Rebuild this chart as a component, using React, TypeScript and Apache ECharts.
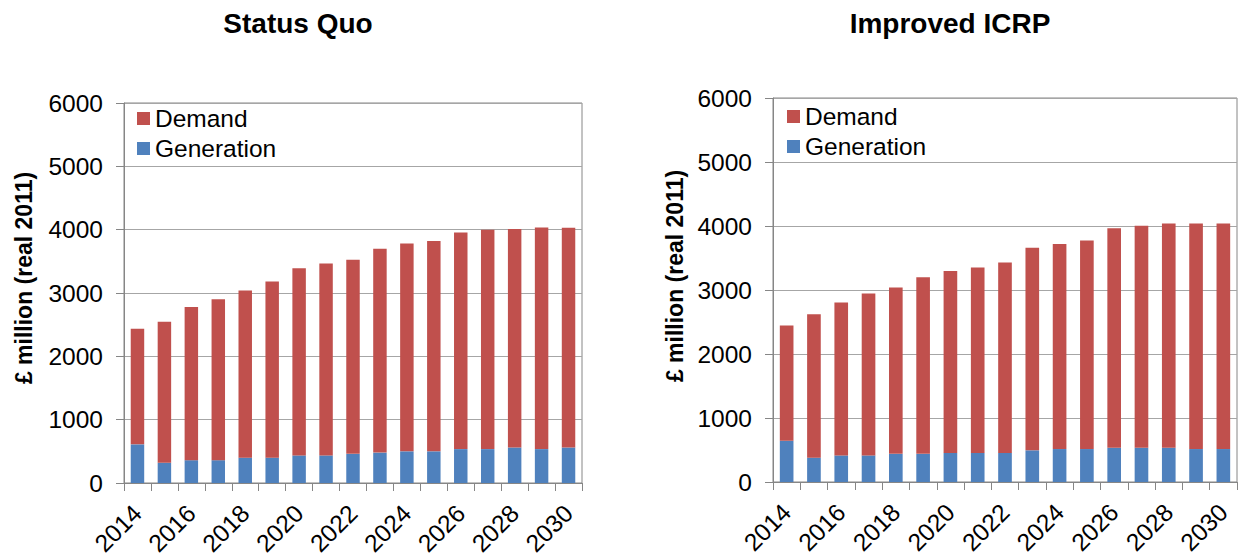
import React, { useEffect, useRef } from "react";
import * as echarts from "echarts";

// Years on the category axis
const years = [
  "2014", "2015", "2016", "2017", "2018", "2019", "2020", "2021", "2022",
  "2023", "2024", "2025", "2026", "2027", "2028", "2029", "2030",
];

// Status Quo scenario, £ million (real 2011)
const statusQuoGeneration = [610, 320, 360, 360, 400, 400, 435, 435, 460, 480, 500, 500, 535, 535, 560, 535, 560];
const statusQuoDemand = [1825, 2225, 2420, 2540, 2640, 2780, 2955, 3030, 3065, 3220, 3280, 3320, 3420, 3465, 3450, 3500, 3470];

// Improved ICRP scenario, £ million (real 2011)
const icrpGeneration = [645, 380, 415, 415, 440, 440, 455, 455, 455, 495, 515, 515, 535, 535, 535, 515, 515];
const icrpDemand = [1800, 2240, 2390, 2530, 2600, 2760, 2840, 2895, 2975, 3165, 3205, 3260, 3430, 3470, 3505, 3525, 3525];

const chartTitles = ["Status Quo", "Improved ICRP"];
const yAxisTitle = "£ million (real 2011)";
const legendNames = ["Demand", "Generation"];

const RED = "#C0504D";
const BLUE = "#4F81BD";
const AXIS = "#868686";
const GRID = "#A6A6A6";
const FONT = "'Liberation Sans', Arial, sans-serif";
const LABEL_SIZE = 24.5;

function xAxis(gridIndex: number) {
  return {
    type: "category",
    gridIndex,
    data: years,
    boundaryGap: true,
    axisLine: { show: true, lineStyle: { color: AXIS, width: 1 } },
    axisTick: { show: true, interval: 0, length: 8, lineStyle: { color: AXIS } },
    axisLabel: {
      interval: 1,
      rotate: 45,
      margin: 26,
      color: "#000",
      fontSize: LABEL_SIZE,
      fontFamily: FONT,
    },
  };
}

function yAxis(gridIndex: number) {
  return {
    type: "value",
    gridIndex,
    min: 0,
    max: 6000,
    interval: 1000,
    axisLine: { show: true, lineStyle: { color: AXIS, width: 1 } },
    axisTick: { show: true, length: 8, lineStyle: { color: AXIS } },
    splitLine: { show: true, lineStyle: { color: GRID, width: 1 } },
    axisLabel: {
      margin: 21,
      color: "#000",
      fontSize: LABEL_SIZE,
      fontFamily: FONT,
      formatter: (v: number) => String(v),
    },
  };
}

function legend(left: number, top: number) {
  return {
    data: legendNames,
    orient: "vertical",
    left,
    top,
    padding: 0,
    itemGap: 5,
    itemWidth: 13,
    itemHeight: 13,
    icon: "rect",
    textStyle: { fontSize: LABEL_SIZE, color: "#000", fontFamily: FONT },
  };
}

function bars(name: string, data: number[], idx: number, color: string) {
  return {
    type: "bar",
    name,
    data,
    xAxisIndex: idx,
    yAxisIndex: idx,
    stack: "s" + idx,
    barCategoryGap: "50%",
    itemStyle: { color },
    emphasis: { disabled: true },
  };
}

export default function App() {
  const ref = useRef<HTMLDivElement>(null);

  useEffect(() => {
    if (!ref.current) return;
    const chart = echarts.init(ref.current, undefined, { renderer: "svg" });
    chart.setOption({
      animation: false,
      backgroundColor: "#fff",
      grid: [
        { left: 124, right: 657, top: 103, bottom: 76, show: true, borderColor: AXIS, borderWidth: 1 },
        { left: 773, right: 2, top: 98, bottom: 77, show: true, borderColor: AXIS, borderWidth: 1 },
      ],
      xAxis: [xAxis(0), xAxis(1)],
      yAxis: [yAxis(0), yAxis(1)],
      legend: [legend(137, 106), legend(787, 104)],
      series: [
        bars("Generation", statusQuoGeneration, 0, BLUE),
        bars("Demand", statusQuoDemand, 0, RED),
        bars("Generation", icrpGeneration, 1, BLUE),
        bars("Demand", icrpDemand, 1, RED),
      ],
      graphic: [
        {
          type: "text",
          x: 298,
          y: 23,
          style: { text: chartTitles[0], font: `bold 28px ${FONT}`, fill: "#000", textAlign: "center", textVerticalAlign: "middle" },
        },
        {
          type: "text",
          x: 950,
          y: 23,
          style: { text: chartTitles[1], font: `bold 28px ${FONT}`, fill: "#000", textAlign: "center", textVerticalAlign: "middle" },
        },
        {
          type: "text",
          x: 24,
          y: 278,
          rotation: Math.PI / 2,
          style: { text: yAxisTitle, font: `bold 23px ${FONT}`, fill: "#000", textAlign: "center", textVerticalAlign: "middle" },
        },
        {
          type: "text",
          x: 675,
          y: 276,
          rotation: Math.PI / 2,
          style: { text: yAxisTitle, font: `bold 23px ${FONT}`, fill: "#000", textAlign: "center", textVerticalAlign: "middle" },
        },
      ],
    });
    return () => chart.dispose();
  }, []);

  return (
    <div
      ref={ref}
      style={{ position: "fixed", left: 0, top: 0, width: 1239, height: 559 }}
    />
  );
}
